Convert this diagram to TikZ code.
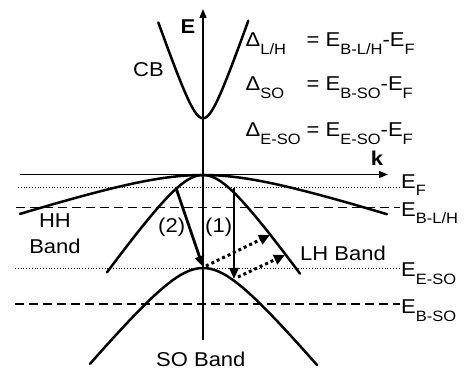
\documentclass[tikz,border=0pt]{standalone}
\usepackage{fontspec}
\setmainfont[FakeStretch=1.1]{Liberation Sans}
\usepackage{tikz}
\usetikzlibrary{arrows.meta}
\newcommand{\lowsub}[1]{\raisebox{-7.5pt}{\fontsize{15}{15}\selectfont #1}}
\tikzset{
    band/.style={
        line width=2.5pt, line cap=round
    },
    axis/.style={
        line width=1.3pt, -{Triangle[length=9pt,width=7pt]}
    },
    fermi/.style={
        line width=0.8pt, dotted
    },
    edge/.style={
        line width=1.1pt, dash pattern=on 9pt off 5pt
    },
    trans/.style={
        line width=2.8pt, -{Triangle[length=11pt,width=9pt]}
    },
    scatter/.style={
        line width=3pt, dash pattern=on 3pt off 3pt,
        -{Triangle[length=11pt,width=10pt]}
    },
    lbl/.style={
        font=\fontsize{20}{24}\selectfont, inner sep=0pt
    }
}

\begin{document}
\begin{tikzpicture}[x=1pt, y=-1pt]
\useasboundingbox (0,0) rectangle (466,371);

\coordinate (eorg) at (203,340);
\coordinate (etop) at (203,9);
\coordinate (korg) at (20,174.5);
\coordinate (kend) at (388,174.5);

\draw[axis] (eorg) -- (etop);
\draw[axis] (korg) -- (kend);

\draw[fermi] (18,187) -- (400,187);
\draw[edge] (16,207.7) -- (400,207.7);
\draw[fermi] (15,268.5) -- (400,268.5);
\draw[edge] (15,304) -- (400,304);

\draw[band] plot[domain=158.3:248.3, samples=60]
    ({\x},{118.3-39*(sqrt(1+((\x-203)/13.5)^2)-1)});
\draw[band] plot[domain=20:387, samples=80]
    ({\x},{175+26*(sqrt(1+((\x-203)/80)^2)-1)});
\draw[band] plot[domain=107:300, samples=80]
    ({\x},{175+45*(sqrt(1+((\x-203)/32)^2)-1)});
\draw[band] plot[domain=90:317, samples=80]
    ({\x},{268+48*(sqrt(1+((\x-203)/40)^2)-1)});

\coordinate (t2s) at (176,188);
\coordinate (t2e) at (203,267);
\coordinate (t1s) at (234,188);
\coordinate (t1e) at (234,279);
\coordinate (d1s) at (206,266);
\coordinate (d1e) at (270,235);
\coordinate (d2s) at (238,277);
\coordinate (d2e) at (285,255);

\draw[trans] (t2s) -- (t2e);
\draw[trans] (t1s) -- (t1e);
\draw[scatter] (d1s) -- (d1e);
\draw[scatter] (d2s) -- (d2e);

\node[lbl, anchor=base] (elab) at (188,33.3) {\bfseries E};
\node[lbl, anchor=base] (klab) at (377,165.7) {\bfseries k};

\node[lbl, anchor=base west] (cb) at (133,76.7) {CB};
\node[lbl, anchor=base, align=center] (hh) at (55,254) {HH\\[2.7pt]Band};
\node[lbl, anchor=base west] (lh) at (300,260.7) {LH Band};
\node[lbl, anchor=base west] (so) at (156,366.7) {SO Band};
\node[lbl, anchor=base west] (two) at (158,233) {(2)};
\node[lbl, anchor=base west] (one) at (205,233) {(1)};

\node[lbl, anchor=base west] (ef) at (401,188.3) {E\lowsub{F}};
\node[lbl, anchor=base west] (eblh) at (401,216.3) {E\lowsub{B-L/H}};
\node[lbl, anchor=base west] (eeso) at (401,277) {E\lowsub{E-SO}};
\node[lbl, anchor=base west] (ebso) at (401,314) {E\lowsub{B-SO}};

\node[lbl, anchor=base west] (dlh) at (245.5,46.7)
    {\makebox[61pt][l]{Δ\lowsub{L/H}}= E\lowsub{B-L/H}-E\lowsub{F}};
\node[lbl, anchor=base west] (dso) at (245.5,90.7)
    {\makebox[61pt][l]{Δ\lowsub{SO}}= E\lowsub{B-SO}-E\lowsub{F}};
\node[lbl, anchor=base west] (deso) at (245.5,136.7)
    {\makebox[61pt][l]{Δ\lowsub{E-SO}}= E\lowsub{E-SO}-E\lowsub{F}};

\end{tikzpicture}
\end{document}
